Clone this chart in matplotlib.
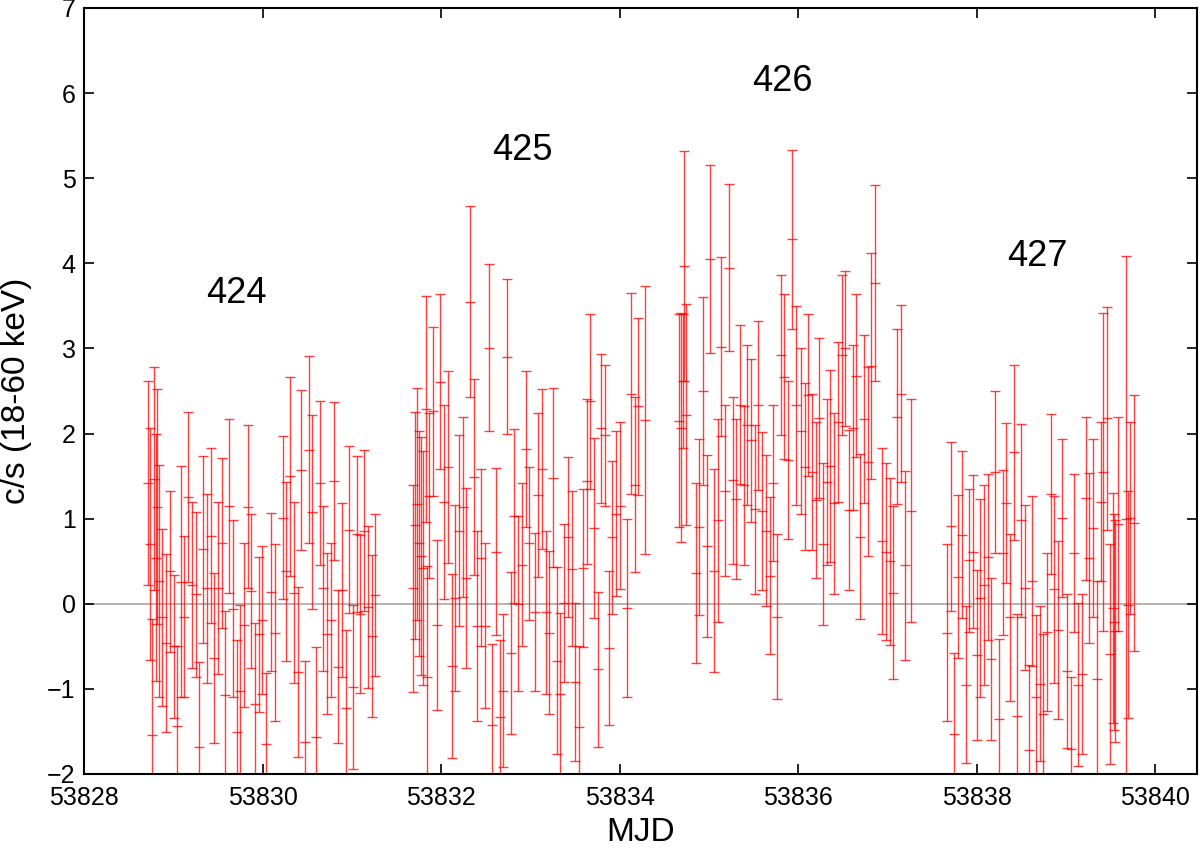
import numpy as np
import matplotlib
matplotlib.use("Agg")
import matplotlib.pyplot as plt
from matplotlib.ticker import FormatStrFormatter, MultipleLocator

plt.rcParams['font.family'] = ['Liberation Sans', 'DejaVu Sans']

# revolution 424
t_424 = [53828.713, 53828.735, 53828.758, 53828.780, 53828.803, 53828.821, 53828.844, 53828.870,
         53828.919, 53828.960, 53829.004, 53829.046, 53829.083, 53829.124, 53829.169, 53829.210,
         53829.251, 53829.292, 53829.337, 53829.378, 53829.419, 53829.460, 53829.501, 53829.542,
         53829.583, 53829.628, 53829.665, 53829.710, 53829.751, 53829.792, 53829.833, 53829.875,
         53829.916, 53829.957, 53829.998, 53830.039, 53830.099, 53830.140, 53830.226, 53830.267,
         53830.308, 53830.349, 53830.394, 53830.435, 53830.476, 53830.517, 53830.558, 53830.599,
         53830.640, 53830.681, 53830.722, 53830.763, 53830.805, 53830.849, 53830.890, 53830.932,
         53830.973, 53831.014, 53831.055, 53831.096, 53831.141, 53831.182, 53831.223, 53831.264]
rate_424 = [1.42, 0.70, -1.54, 1.47, 0.54, 1.14, 0.27, -0.16, -0.46, 0.38, -0.50, -1.44, 0.26, -0.15,
            1.25, 0.22, 0.11, -1.68, 0.64, 0.18, 0.80, -0.64, 0.18, 0.71, -1.07, 1.15, -0.06, -1.51,
            -1.02, -0.25, 1.14, 0.15, -1.18, -0.36, -0.19, -1.65, 0.14, -0.34, 1.01, 0.38, 1.50, 0.13,
            -0.80, 1.57, -1.62, 1.81, 1.08, -1.56, 1.42, 0.18, -0.35, -0.19, 1.44, -0.74, 0.16, -1.23,
            0.87, -0.98, 0.82, -0.12, 0.86, -0.04, -0.38, 0.10]
err_424 = [1.20, 1.36, 1.36, 1.31, 1.45, 1.38, 1.36, 1.04, 1.05, 0.95, 0.84, 0.94, 1.36, 0.95,
           1.00, 0.98, 0.97, 0.99, 1.10, 1.11, 1.03, 1.00, 1.01, 1.00, 0.98, 1.02, 1.04, 1.08,
           1.00, 0.96, 0.96, 0.91, 0.95, 0.91, 0.87, 0.84, 0.93, 1.04, 0.96, 1.05, 1.17, 1.06,
           1.00, 0.94, 0.95, 1.10, 1.14, 1.05, 0.96, 0.97, 0.95, 0.90, 0.93, 0.90, 1.02, 0.92,
           0.98, 0.96, 0.92, 0.93, 0.95, 0.95, 0.95, 0.95]

# revolution 425
t_425 = [53831.690, 53831.712, 53831.735, 53831.750, 53831.772, 53831.795, 53831.828, 53831.847,
         53831.869, 53831.907, 53831.951, 53831.993, 53832.034, 53832.075, 53832.120, 53832.157,
         53832.202, 53832.243, 53832.284, 53832.325, 53832.366, 53832.407, 53832.448, 53832.489,
         53832.534, 53832.575, 53832.616, 53832.657, 53832.698, 53832.740, 53832.781, 53832.822,
         53832.866, 53832.908, 53832.949, 53832.990, 53833.049, 53833.091, 53833.132, 53833.173,
         53833.214, 53833.255, 53833.296, 53833.337, 53833.378, 53833.423, 53833.464, 53833.505,
         53833.546, 53833.587, 53833.632, 53833.673, 53833.714, 53833.755, 53833.797, 53833.838,
         53833.879, 53833.920, 53833.961, 53834.002, 53834.088, 53834.129, 53834.170, 53834.211,
         53834.286]
rate_425 = [0.18, 0.92, 1.17, 0.71, 0.56, 0.42, 2.29, -0.86, 1.27, 2.26, -0.25, 2.61, 1.19, 1.61,
            -0.73, 0.07, 0.86, 1.14, 0.30, 3.55, 1.49, -0.26, 0.54, -0.26, 3.01, -1.43, 0.61, -1.33,
            -1.02, 2.90, -0.58, 1.03, 0.00, 0.46, 1.82, 0.71, -0.10, 1.28, 1.58, -0.10, -0.34, 1.48,
            -0.67, -1.06, 0.01, 0.78, 0.41, -0.92, -1.45, 0.42, 1.44, 2.38, 0.89, -0.77, 2.06, 1.98,
            -0.52, 0.78, 1.06, 1.15, -0.05, 2.47, 1.40, 2.32, 2.16]
err_425 = [1.22, 1.33, 1.36, 1.32, 1.40, 1.37, 1.33, 1.30, 0.97, 0.99, 1.00, 1.03, 1.14, 1.13,
           1.08, 1.09, 1.12, 1.06, 1.06, 1.12, 1.15, 1.12, 1.04, 0.97, 0.98, 0.96, 0.98, 0.90,
           0.90, 0.91, 0.95, 1.02, 1.03, 0.96, 0.92, 0.90, 0.93, 0.96, 0.94, 0.96, 0.96, 1.05,
           1.10, 0.95, 0.93, 0.94, 0.91, 0.93, 0.95, 0.93, 0.97, 1.03, 1.06, 0.91, 0.88, 0.83,
           0.90, 0.90, 0.97, 0.98, 1.05, 1.18, 1.03, 1.04, 1.57]

# revolution 426
t_426 = [53834.670, 53834.689, 53834.708, 53834.723, 53834.741, 53834.853, 53834.894, 53834.936,
         53834.977, 53835.018, 53835.059, 53835.100, 53835.141, 53835.182, 53835.227, 53835.268,
         53835.309, 53835.350, 53835.391, 53835.432, 53835.473, 53835.514, 53835.556, 53835.597,
         53835.641, 53835.683, 53835.724, 53835.765, 53835.806, 53835.847, 53835.888, 53835.933,
         53835.974, 53836.034, 53836.075, 53836.116, 53836.157, 53836.198, 53836.239, 53836.280,
         53836.321, 53836.362, 53836.403, 53836.448, 53836.489, 53836.530, 53836.571, 53836.613,
         53836.654, 53836.698, 53836.740, 53836.781, 53836.822, 53836.863, 53836.945, 53836.986,
         53837.027, 53837.068, 53837.113, 53837.154, 53837.195, 53837.270]
rate_426 = [2.15, 2.07, 2.62, 3.97, 2.22, 0.36, 0.90, 2.50, 0.68, 4.05, 0.39, 0.98, 3.02, 1.33,
            3.95, 1.45, 1.23, 2.34, 1.39, 2.10, 1.92, 1.11, 2.33, 1.09, 0.86, 0.33, 1.42, -0.15,
            2.92, 2.67, 1.69, 4.28, 2.33, 2.03, 1.61, 2.45, 1.55, 1.22, 2.18, 0.70, 1.43, 1.62,
            1.18, 2.14, 2.92, 3.00, 1.10, 2.07, 2.68, 0.79, 2.17, 1.67, 2.79, 3.77, 0.74, 0.61,
            0.50, 0.13, 2.20, 2.47, 0.45, 1.09]
err_426 = [1.25, 1.35, 0.79, 1.35, 1.30, 1.06, 1.03, 1.10, 1.07, 1.10, 1.19, 1.19, 1.05, 1.00,
           0.98, 0.98, 0.94, 0.93, 0.93, 0.94, 0.96, 0.99, 0.99, 0.93, 0.89, 0.92, 0.92, 0.97,
           0.94, 0.97, 0.93, 1.05, 1.17, 0.97, 0.98, 0.95, 0.92, 0.92, 0.94, 0.95, 0.97, 1.13,
           1.06, 0.94, 0.94, 0.91, 0.94, 0.97, 0.96, 0.97, 0.99, 1.11, 1.33, 1.15, 1.09, 1.04,
           0.98, 1.02, 1.03, 1.04, 1.11, 1.31]

# revolution 427
t_427 = [53837.666, 53837.711, 53837.748, 53837.793, 53837.834, 53837.879, 53837.920, 53837.957,
         53838.002, 53838.043, 53838.084, 53838.125, 53838.166, 53838.211, 53838.252, 53838.293,
         53838.334, 53838.375, 53838.417, 53838.458, 53838.499, 53838.540, 53838.585, 53838.626,
         53838.667, 53838.708, 53838.749, 53838.790, 53838.831, 53838.872, 53838.917, 53838.958,
         53839.014, 53839.055, 53839.096, 53839.137, 53839.178, 53839.223, 53839.264, 53839.305,
         53839.346, 53839.391, 53839.421, 53839.462, 53839.496, 53839.526, 53839.541, 53839.556,
         53839.582, 53839.675, 53839.698, 53839.720, 53839.761]
rate_427 = [-0.34, 0.91, -1.53, 0.32, 0.81, -0.95, 0.51, 0.61, -0.60, 0.07, 0.22, 0.55, -0.65, 1.55,
            -1.36, 0.60, 1.18, -0.16, 1.78, -1.32, 0.98, 0.19, -1.72, 0.27, -1.09, -0.94, -1.29,
            -0.33, 1.29, 0.17, -0.31, 1.01, -0.79, -1.71, 0.60, -0.95, -0.83, 1.24, 0.54, 0.89,
            -0.88, 1.20, 1.55, 2.18, -0.59, -0.05, -0.21, -0.32, 0.94, 1.00, -0.01, 1.01, 0.95]
err_427 = [1.04, 0.99, 0.95, 0.96, 0.98, 0.92, 0.84, 0.90, 1.00, 1.16, 1.17, 0.98, 0.95, 0.95,
           0.94, 0.97, 0.94, 0.98, 1.03, 1.20, 1.13, 0.97, 1.00, 1.00, 0.96, 0.91, 0.93, 0.93,
           0.94, 1.10, 1.05, 0.93, 0.90, 0.85, 0.93, 0.96, 0.94, 0.96, 1.00, 1.04, 1.15, 0.93,
           1.87, 1.31, 1.29, 1.35, 1.27, 1.30, 1.26, 3.08, 1.33, 1.13, 1.50]

# revolution labels and where they sit
rev_names = ["424", "425", "426", "427"]
rev_label_x = [53829.71, 53832.91, 53835.82, 53838.68]
rev_label_y = [3.64, 5.32, 6.14, 4.08]

revs = [(t_424, rate_424, err_424), (t_425, rate_425, err_425),
        (t_426, rate_426, err_426), (t_427, rate_427, err_427)]

fig = plt.figure(figsize=(12, 8.48), dpi=100)
ax = fig.add_axes([0.07, 0.0873, 0.9275, 0.9033])

ax.axhline(0, color="#a8a8a8", lw=1.2, zorder=1)

for t, r, e in revs:
    ax.errorbar(t, r, yerr=e, fmt="_", color="red", ecolor="red", ms=7.5, mew=1.0,
                elinewidth=1.0, capsize=3.8, capthick=1.0, alpha=0.75, zorder=2)

for name, x, y in zip(rev_names, rev_label_x, rev_label_y):
    ax.text(x, y, name, fontsize=26, ha="center", va="center")

ax.set_xlim(53828, 53840.47)
ax.set_ylim(-2, 7)
ax.xaxis.set_major_locator(MultipleLocator(2))
ax.xaxis.set_major_formatter(FormatStrFormatter("%d"))
ax.yaxis.set_major_locator(MultipleLocator(1))

ax.tick_params(direction="in", top=True, right=True, length=7, width=1.2, labelsize=18)
ax.tick_params(axis="x", pad=9)
ax.tick_params(axis="y", pad=6)
for sp in ax.spines.values():
    sp.set_linewidth(1.5)

ax.set_xlabel("MJD", fontsize=24, labelpad=5)
ax.set_ylabel("c/s (18-60 keV)", fontsize=24, labelpad=11)

fig.savefig("out.png", dpi=100)
